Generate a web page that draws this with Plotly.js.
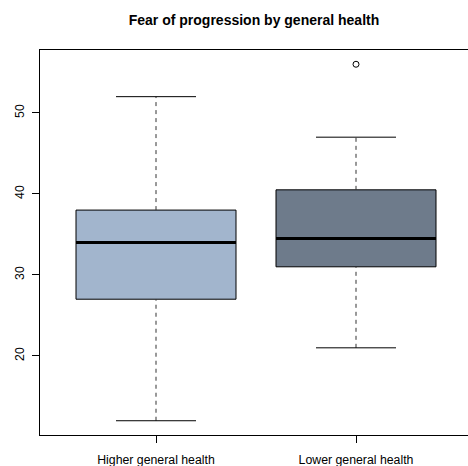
<!DOCTYPE html>
<html>
<head>
<meta charset="utf-8">
<script src="https://cdn.plot.ly/plotly-3.0.1.min.js"></script>
<style>
  html, body { margin: 0; padding: 0; background: #fff; }
  #chart { width: 468px; height: 466px; }
</style>
</head>
<body>
<div id="chart"></div>
<script>
// Summary statistics for each health group
const groups = ["Higher general health", "Lower general health"];
const positions = [1, 2];
const lowerWhisker = [12, 21];
const q1 = [27, 31];
const median = [34, 34.5];
const q3 = [38, 40.5];
const upperWhisker = [52, 47];
const outlierGroup = [2];
const outlierValue = [56];
const fills = ["#A2B5CD", "#6E7B8B"];
const yTicks = [20, 30, 40, 50];

const boxWidth = 0.8;
const stapleHalf = boxWidth / 4;

const traces = [];

// dashed whiskers and solid staples
positions.forEach((p, i) => {
  const dashLine = { color: "#333", width: 1, dash: "4px,4px" };
  traces.push({ type: "scatter", mode: "lines", x: [p, p], y: [q3[i], upperWhisker[i]],
    line: dashLine, hoverinfo: "skip", showlegend: false });
  traces.push({ type: "scatter", mode: "lines", x: [p, p], y: [lowerWhisker[i], q1[i]],
    line: dashLine, hoverinfo: "skip", showlegend: false });
  [lowerWhisker[i], upperWhisker[i]].forEach(v => {
    traces.push({ type: "scatter", mode: "lines", x: [p - stapleHalf, p + stapleHalf], y: [v, v],
      line: { color: "#000", width: 1 }, hoverinfo: "skip", showlegend: false });
  });
});

// boxes (whiskers collapsed onto the box edges; drawn separately above)
positions.forEach((p, i) => {
  traces.push({
    type: "box", x: [p], q1: [q1[i]], median: [median[i]], q3: [q3[i]],
    lowerfence: [q1[i]], upperfence: [q3[i]],
    width: boxWidth, whiskerwidth: 0,
    fillcolor: fills[i], line: { color: "#000", width: 1 },
    boxpoints: false, hoverinfo: "skip", showlegend: false
  });
});

// thick median bars
positions.forEach((p, i) => {
  traces.push({ type: "scatter", mode: "lines",
    x: [p - boxWidth / 2, p + boxWidth / 2], y: [median[i], median[i]],
    line: { color: "#000", width: 3 }, hoverinfo: "skip", showlegend: false });
});

// outliers
traces.push({ type: "scatter", mode: "markers",
  x: outlierGroup, y: outlierValue,
  marker: { symbol: "circle-open", size: 6, color: "#000", line: { width: 1 } },
  hoverinfo: "skip", showlegend: false });

const font = { family: "Liberation Sans, Arial, sans-serif", size: 12.3, color: "#000" };

const layout = {
  width: 468, height: 466,
  margin: { l: 40, r: 0, t: 50, b: 31 },
  paper_bgcolor: "#fff", plot_bgcolor: "#fff",
  font: font,
  title: {
    text: "<b>Fear of progression by general health</b>",
    font: { family: "Liberation Sans, Arial, sans-serif", size: 14, color: "#000" },
    x: 0.5, xanchor: "center", xref: "paper",
    y: 1 - 20 / 466, yanchor: "middle", yref: "container"
  },
  xaxis: {
    range: [0.42, 2.56], tickmode: "array", tickvals: positions, ticktext: groups,
    showgrid: false, zeroline: false,
    showline: true, mirror: true, linecolor: "#000", linewidth: 1,
    ticks: "outside", ticklen: 7, tickcolor: "#000", tickwidth: 1,
    ticklabelstandoff: 6,
    tickfont: font, fixedrange: true
  },
  yaxis: {
    range: [10.24, 57.76], tickmode: "array", tickvals: yTicks,
    showgrid: false, zeroline: false,
    showline: true, mirror: false, linecolor: "#000", linewidth: 1,
    ticks: "outside", ticklen: 7, tickcolor: "#000", tickwidth: 1,
    ticklabelstandoff: 3,
    tickangle: -90, tickfont: font, fixedrange: true
  }
};

Plotly.newPlot("chart", traces, layout, { staticPlot: true, displayModeBar: false });
</script>
</body>
</html>
